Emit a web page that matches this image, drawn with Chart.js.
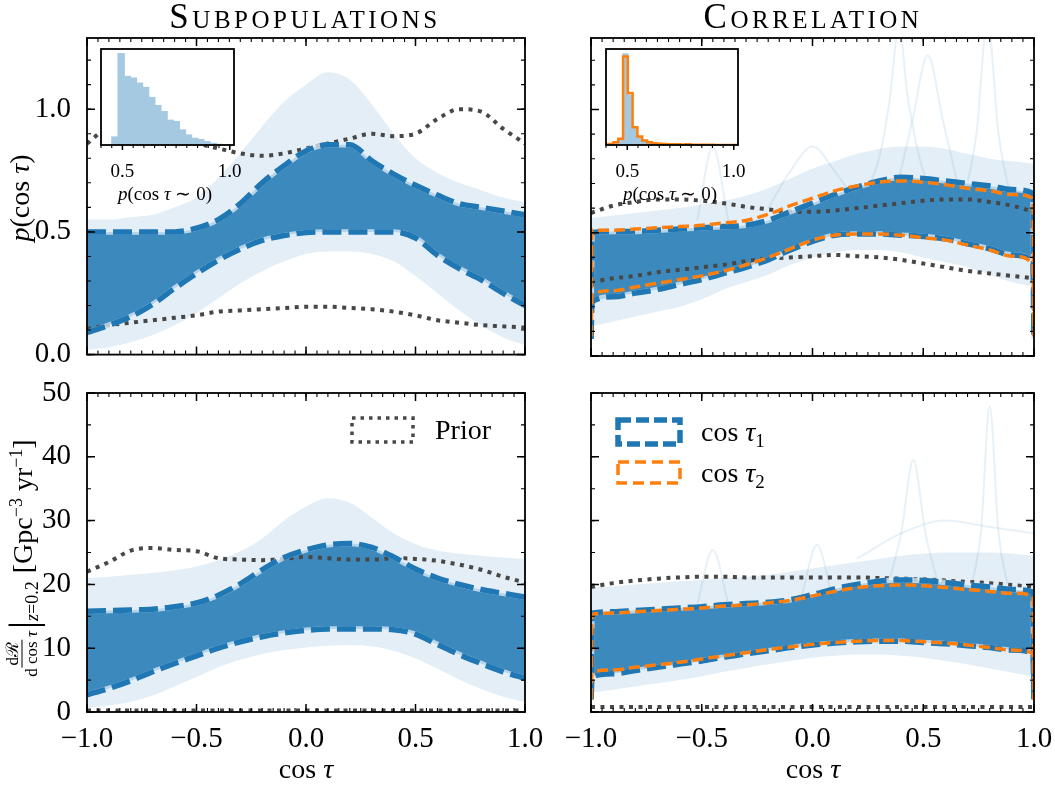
<!DOCTYPE html>
<html>
<head>
<meta charset="utf-8">
<script src="https://cdn.jsdelivr.net/npm/chart.js@4.4.1/dist/chart.umd.min.js"></script>
<style>
  body { margin: 0; background: #fff; overflow: hidden; }
  #fig { position: relative; width: 1055px; height: 785px; overflow: hidden; font-family: "Liberation Serif", serif; color: #000; }
  canvas { position: absolute; }
  .t { position: absolute; white-space: nowrap; }
  .title { font-size: 35px; font-variant: small-caps; letter-spacing: 3.5px; text-align: center; width: 420px; line-height: 40px; top: -3px; }
  .xlab { font-size: 28px; text-align: center; width: 200px; line-height: 34px; top: 752px; }
  .rot { transform: translate(-50%, -50%) rotate(-90deg); font-size: 28px; }
  .flexrot { display: flex; align-items: center; }
  .frac { display: inline-flex; flex-direction: column; align-items: center; font-size: 17px; line-height: 18px; margin-right: 2px; }
  .frac span:first-child { border-bottom: 1.2px solid #000; padding: 0 2px; }
  .bar { font-size: 40px; line-height: 34px; }
  .sub { font-size: 18px; position: relative; top: 10px; margin-right: 8px; }
  .inlab { font-size: 19px; transform: translate(-50%, -50%); }
</style>
</head>
<body>
<div id="fig">
  <canvas id="subP" width="560" height="380" style="left:0;top:0"></canvas>
  <canvas id="corrP" width="530" height="380" style="left:540px;top:0"></canvas>
  <canvas id="subR" width="560" height="425" style="left:0;top:360px"></canvas>
  <canvas id="corrR" width="530" height="425" style="left:540px;top:360px"></canvas>
  <canvas id="insetSub" width="170" height="145" style="left:90px;top:40px"></canvas>
  <canvas id="insetCorr" width="170" height="145" style="left:595px;top:40px"></canvas>

  <div class="t title" style="left:95px">Subpopulations</div>
  <div class="t title" style="left:603px">Correlation</div>
  <div class="t xlab" style="left:206px">cos&nbsp;<i>τ</i></div>
  <div class="t xlab" style="left:713px">cos&nbsp;<i>τ</i></div>
  <div class="t rot" style="left:20px;top:198px"><i>p</i>(cos&nbsp;<i>τ</i>)</div>
  <div class="t rot flexrot" style="left:22px;top:558px">
    <span class="frac"><span>dℛ</span><span>d&nbsp;cos&nbsp;<i>τ</i></span></span><span class="bar">|</span><span class="sub"><i>z</i>=0.2</span><span>[Gpc<sup style="font-size:18px">−3</sup>&nbsp;yr<sup style="font-size:18px">−1</sup>]</span>
  </div>
  <div class="t inlab" style="left:165px;top:193px"><i>p</i>(cos <i>τ</i> ∼ 0)</div>
  <div class="t inlab" style="left:670px;top:193px"><i>p</i>(cos <i>τ</i> ∼ 0)</div>
</div>

<script>
// ---- data ----
const cosTau = [-1, -0.9, -0.8, -0.7, -0.6, -0.5, -0.4, -0.3, -0.2, -0.1, 0,
                0.1, 0.2, 0.3, 0.4, 0.5, 0.6, 0.7, 0.8, 0.9, 1];
// correlation curves drop to ~0 right at the boundaries
const cosTauEdge = [-1, -0.995, -0.9, -0.8, -0.7, -0.6, -0.5, -0.4, -0.3, -0.2, -0.1, 0,
                    0.1, 0.2, 0.3, 0.4, 0.5, 0.6, 0.7, 0.8, 0.9, 0.995, 1];

const xTicks = [-1, -0.5, 0, 0.5, 1];
const yTicksP = [0, 0.5, 1.0];
const yTicksR = [0, 10, 20, 30, 40, 50];
const insetTicks = [0.5, 1.0];

// Subpopulations, p(cos tau)
const subP_hi90    = [0.5, 0.5, 0.5, 0.5, 0.5, 0.515, 0.55, 0.615, 0.7, 0.77, 0.83, 0.855, 0.855, 0.79, 0.735, 0.69, 0.65, 0.615, 0.6, 0.585, 0.57];
const subP_lo90    = [0.09, 0.12, 0.155, 0.205, 0.27, 0.33, 0.385, 0.43, 0.465, 0.485, 0.497, 0.5, 0.5, 0.5, 0.5, 0.475, 0.405, 0.35, 0.305, 0.25, 0.2];
const subP_outerHi = [0.55, 0.55, 0.56, 0.57, 0.6, 0.64, 0.72, 0.82, 0.93, 1.03, 1.1, 1.15, 1.12, 1.02, 0.9, 0.8, 0.74, 0.7, 0.67, 0.64, 0.62];
const subP_outerLo = [0.02, 0.03, 0.05, 0.08, 0.12, 0.17, 0.23, 0.29, 0.34, 0.38, 0.41, 0.42, 0.42, 0.41, 0.38, 0.32, 0.25, 0.18, 0.12, 0.07, 0.04];
const subP_priorHi = [0.86, 0.92, 0.92, 0.9, 0.88, 0.86, 0.84, 0.82, 0.81, 0.82, 0.84, 0.86, 0.88, 0.9, 0.89, 0.9, 0.96, 1.0, 0.99, 0.92, 0.86];
const subP_priorLo = [0.105, 0.12, 0.13, 0.14, 0.15, 0.16, 0.175, 0.18, 0.185, 0.19, 0.195, 0.195, 0.19, 0.185, 0.175, 0.16, 0.14, 0.13, 0.12, 0.115, 0.11];

// Correlation, p(cos tau)  (hi1/lo1: cos tau_1, hi2/lo2: cos tau_2)
const corrP_hi1 = [0.07, 0.5, 0.505, 0.505, 0.51, 0.515, 0.52, 0.525, 0.53, 0.55, 0.585, 0.62, 0.655, 0.685, 0.71, 0.725, 0.72, 0.71, 0.7, 0.69, 0.675, 0.66, 0.07];
const corrP_lo1 = [0.07, 0.22, 0.24, 0.255, 0.27, 0.29, 0.31, 0.335, 0.36, 0.39, 0.43, 0.465, 0.49, 0.495, 0.495, 0.49, 0.485, 0.475, 0.455, 0.435, 0.41, 0.385, 0.07];
const corrP_hi2 = [0.08, 0.51, 0.51, 0.515, 0.52, 0.525, 0.53, 0.54, 0.55, 0.575, 0.61, 0.64, 0.67, 0.69, 0.705, 0.71, 0.705, 0.695, 0.68, 0.67, 0.655, 0.64, 0.08];
const corrP_lo2 = [0.08, 0.25, 0.265, 0.28, 0.295, 0.31, 0.325, 0.345, 0.37, 0.4, 0.435, 0.47, 0.49, 0.495, 0.495, 0.49, 0.48, 0.47, 0.45, 0.43, 0.405, 0.375, 0.08];
const corrP_outerHi = [0.56, 0.57, 0.58, 0.59, 0.6, 0.615, 0.63, 0.65, 0.68, 0.72, 0.76, 0.79, 0.82, 0.84, 0.85, 0.85, 0.84, 0.82, 0.8, 0.79, 0.78];
const corrP_outerLo = [0.12, 0.14, 0.16, 0.18, 0.2, 0.23, 0.27, 0.3, 0.33, 0.37, 0.4, 0.42, 0.43, 0.43, 0.42, 0.4, 0.38, 0.36, 0.33, 0.3, 0.28];
const corrP_priorHi = [0.58, 0.61, 0.625, 0.635, 0.635, 0.63, 0.62, 0.605, 0.595, 0.585, 0.585, 0.59, 0.6, 0.61, 0.62, 0.63, 0.635, 0.635, 0.625, 0.61, 0.585];
const corrP_priorLo = [0.3, 0.315, 0.325, 0.34, 0.35, 0.36, 0.37, 0.385, 0.395, 0.4, 0.405, 0.41, 0.405, 0.4, 0.39, 0.375, 0.36, 0.345, 0.335, 0.325, 0.315];
// a few outlying draws that stand out
const corrP_spikes = [
  { x: [0.2, 0.3, 0.35, 0.39, 0.43, 0.5, 0.6], y: [0.62, 0.8, 1.05, 1.34, 1.05, 0.75, 0.62] },
  { x: [0.68, 0.74, 0.79, 0.84, 0.9], y: [0.62, 0.9, 1.36, 0.9, 0.62] },
  { x: [0.38, 0.45, 0.52, 0.59, 0.66], y: [0.68, 0.95, 1.22, 0.95, 0.68] },
  { x: [-0.52, -0.45, -0.38], y: [0.55, 0.85, 0.55] },
  { x: [-0.2, -0.1, 0, 0.1, 0.2], y: [0.6, 0.75, 0.85, 0.75, 0.62] }
];

// Subpopulations, rate density
const subR_hi90    = [15.8, 15.9, 16.0, 16.1, 16.5, 17.1, 18.3, 20.1, 22.3, 24.2, 25.4, 26.2, 26.4, 25.8, 24.3, 22.4, 21.0, 20.0, 19.2, 18.6, 18.0];
const subR_lo90    = [2.7, 3.7, 4.9, 6.3, 7.6, 8.8, 10.0, 11.0, 11.8, 12.4, 12.8, 13.0, 13.0, 13.0, 12.9, 12.2, 10.6, 9.0, 7.6, 6.3, 5.3];
const subR_outerHi = [21, 21.2, 21.5, 21.8, 22.2, 22.8, 23.8, 25.2, 27.2, 30, 32.2, 33.5, 32.8, 30.5, 28, 26.3, 25.3, 24.8, 24.5, 24.2, 24];
const subR_outerLo = [0.6, 1, 1.6, 2.6, 4, 5.5, 7, 8.2, 9.1, 9.7, 10.1, 10.4, 10.5, 10.3, 9.6, 8.4, 6.8, 5.1, 3.6, 2.4, 1.6];
const subR_priorHi = [22.0, 23.5, 25.3, 25.7, 25.4, 25.2, 24.1, 23.9, 23.8, 24.0, 24.3, 24.1, 23.9, 23.9, 24.1, 24.0, 23.7, 23.1, 22.3, 21.2, 20.3];
const subR_priorLo = [0.25, 0.25, 0.25, 0.25, 0.25, 0.25, 0.25, 0.25, 0.25, 0.25, 0.25, 0.25, 0.25, 0.25, 0.25, 0.25, 0.25, 0.25, 0.25, 0.25, 0.25];

// Correlation, rate density
const corrR_hi1 = [2, 15.5, 15.7, 15.9, 16.1, 16.3, 16.5, 16.8, 17.0, 17.2, 17.6, 18.4, 19.3, 20.0, 20.5, 20.7, 20.6, 20.3, 19.9, 19.6, 19.2, 18.8, 2];
const corrR_lo1 = [2, 5.5, 6.0, 6.5, 7.0, 7.5, 8.0, 8.6, 9.1, 9.6, 10.1, 10.5, 10.8, 11.0, 11.1, 11.1, 10.9, 10.7, 10.4, 10.1, 9.7, 9.2, 2];
const corrR_hi2 = [2, 15.3, 15.5, 15.7, 15.9, 16.1, 16.3, 16.6, 16.8, 17.1, 17.5, 18.2, 18.9, 19.5, 19.8, 19.9, 19.8, 19.5, 19.2, 18.9, 18.6, 18.2, 2];
const corrR_lo2 = [2, 6.2, 6.6, 7.0, 7.4, 7.8, 8.3, 8.8, 9.3, 9.8, 10.2, 10.6, 10.9, 11.1, 11.2, 11.2, 11.0, 10.8, 10.5, 10.1, 9.7, 9.2, 2];
const corrR_outerHi = [19.5, 19.7, 20, 20.2, 20.5, 20.7, 21, 21.2, 21.5, 22, 22.5, 23, 23.5, 24, 24.5, 24.8, 25, 25, 25, 24.8, 24.5];
const corrR_outerLo = [3, 3.5, 4, 4.5, 5, 5.6, 6.3, 6.9, 7.5, 8, 8.5, 8.8, 9, 9, 8.8, 8.5, 8, 7.5, 6.8, 6.2, 5.5];
const corrR_priorHi = [19.6, 20.2, 20.6, 20.9, 21.1, 21.2, 21.2, 21.1, 21.1, 21.1, 21.1, 21.1, 21.1, 21.0, 20.9, 20.8, 20.6, 20.4, 20.2, 19.9, 19.6];
const corrR_priorLo = [0.8, 0.8, 0.8, 0.8, 0.8, 0.8, 0.8, 0.8, 0.8, 0.8, 0.8, 0.8, 0.8, 0.8, 0.8, 0.8, 0.8, 0.8, 0.8, 0.8, 0.8];
const corrR_spikes = [
  { x: [0.72, 0.76, 0.8, 0.84, 0.88], y: [20, 28, 47.9, 28, 20] },
  { x: [0.35, 0.4, 0.455, 0.51, 0.56], y: [21, 28, 39.5, 28, 21] },
  { x: [-0.52, -0.45, -0.38], y: [17, 25.4, 17] },
  { x: [-0.05, 0.02, 0.09], y: [18, 26.2, 18] },
  { x: [0.2, 0.4, 0.6, 0.8, 1.0], y: [24, 28, 30, 29, 28] }
];

// insets: p(cos tau ~ 0) histograms
const insetBinsSub   = [0.465, 0.494, 0.523, 0.551, 0.58, 0.608, 0.637, 0.665, 0.694, 0.723, 0.751, 0.78, 0.808, 0.837, 0.865, 0.894, 0.923, 0.951, 0.98];
const insetCountsSub = [24, 273, 205, 200, 185, 172, 142, 118, 100, 74, 70, 45, 30, 20, 16, 10, 5, 2, 1];
const insetBinsCorr  = [0.424, 0.446, 0.469, 0.491, 0.514, 0.536, 0.559, 0.581, 0.604, 0.626, 0.649, 0.671, 0.694, 0.716,
                        0.739, 0.761, 0.784, 0.806, 0.829, 0.851, 0.874, 0.896, 0.919, 0.941, 0.964, 0.986, 1.009];
const insetCorr1 = [2, 6, 15, 268, 145, 48, 22, 12, 7, 5, 3, 3, 2, 2, 1, 1, 1, 1, 1, 1, 0, 0, 0, 0, 0, 0, 0];
const insetCorr2 = [3, 8, 18, 260, 152, 52, 25, 13, 8, 5, 4, 3, 2, 2, 2, 1, 2, 1, 1, 1, 1, 1, 0, 0, 0, 0, 0];

// ---- styling ----
const C1 = '#1f77b4';
const C2 = '#ff7f0e';
const PRIOR = '#474747';
const HIST = '#a5c9e1';   // C1 at 40% on white, kept opaque so bars butt cleanly
const bandFaint = 'rgba(31,119,180,0.12)';
const bandDense = 'rgba(31,119,180,0.85)';
const SERIF = '"Liberation Serif", serif';
Chart.defaults.font.family = SERIF;
Chart.defaults.color = '#000';

const pts = (xs, ys) => xs.map((x, i) => ({ x, y: ys[i] }));
const inner = arr => arr.slice(1, -1);   // drop the boundary points

function line(data, o) {
  return Object.assign({
    type: 'line', data, pointRadius: 0, borderWidth: 0, borderColor: 'rgba(0,0,0,0)',
    fill: false, cubicInterpolationMode: 'monotone'
  }, o);
}
const prior = (ys) => line(pts(cosTau, ys), { borderColor: PRIOR, borderWidth: 4, borderDash: [4, 5.5], order: 10 });
const under = (xs, ys) => line(pts(xs, ys), { borderColor: 'rgba(225,238,248,0.75)', borderWidth: 5.5, order: 4 });
const dash1 = (xs, ys) => line(pts(xs, ys), { borderColor: C1, borderWidth: 5.5, borderDash: [19, 7], order: 3 });
const dash2 = (xs, ys) => line(pts(xs, ys), { borderColor: C2, borderWidth: 3.5, borderDash: [11, 5], order: 1 });
const faint = (s) => line(pts(s.x, s.y), { borderColor: 'rgba(31,119,180,0.1)', borderWidth: 2, order: 15 });

const fmt1 = v => (v < 0 ? '\u2212' : '') + Math.abs(v).toFixed(1);
const fmt0 = v => String(v);

// inward (or outward) frame ticks, major + minor, on the chart area
function frameTicks(cfg) {
  return {
    id: 'frameTicks',
    afterDraw(chart) {
      const { ctx, chartArea: a, scales: { x, y } } = chart;
      const d = cfg.out ? -1 : 1;
      const steps = (s, step) => {
        const r = [];
        for (let v = Math.ceil(s.min / step - 1e-9) * step; v <= s.max + 1e-9; v += step) r.push(v);
        return r;
      };
      ctx.save();
      ctx.strokeStyle = '#000';
      const drawX = (vals, len, w) => {
        ctx.lineWidth = w;
        ctx.beginPath();
        vals.forEach(v => {
          const p = x.getPixelForValue(v);
          ctx.moveTo(p, a.bottom); ctx.lineTo(p, a.bottom - d * len);
          if (!cfg.out) { ctx.moveTo(p, a.top); ctx.lineTo(p, a.top + len); }
        });
        ctx.stroke();
      };
      const drawY = (vals, len, w) => {
        ctx.lineWidth = w;
        ctx.beginPath();
        vals.forEach(v => {
          const p = y.getPixelForValue(v);
          ctx.moveTo(a.left, p); ctx.lineTo(a.left + len, p);
          ctx.moveTo(a.right, p); ctx.lineTo(a.right - len, p);
        });
        ctx.stroke();
      };
      drawX(steps(x, cfg.xMinor), cfg.out ? 3 : 4, 1.1);
      drawX(cfg.xMajor, cfg.out ? 5 : 8, 1.5);
      if (cfg.yMinor) {
        drawY(steps(y, cfg.yMinor), 4, 1.1);
        drawY(cfg.yMajor, 8, 1.5);
      }
      ctx.lineWidth = 1.8;
      ctx.strokeRect(a.left, a.top, a.width, a.height);
      ctx.restore();
    }
  };
}

// legend patches drawn inside the axes
function patchLegend(items) {
  return {
    id: 'patchLegend',
    afterDatasetsDraw(chart) {
      const { ctx, chartArea: a } = chart;
      items.forEach(it => {
        ctx.save();
        ctx.strokeStyle = it.color;
        ctx.lineWidth = it.width;
        ctx.setLineDash(it.dash);
        ctx.strokeRect(a.left + it.box[0], a.top + it.box[1], it.box[2], it.box[3]);
        ctx.setLineDash([]);
        ctx.fillStyle = '#000';
        ctx.textBaseline = 'alphabetic';
        let tx = a.left + it.textX;
        const ty = a.top + it.box[1] + it.box[3] / 2 + 9;
        it.runs.forEach(r => {
          ctx.font = r.font + ' ' + SERIF;
          ctx.fillText(r.t, tx, ty + (r.dy || 0));
          tx += ctx.measureText(r.t).width;
        });
        ctx.restore();
      });
    }
  };
}

const whiteBg = {
  id: 'whiteBg',
  beforeDatasetsDraw(chart) {
    const { ctx, chartArea: a } = chart;
    ctx.save();
    ctx.fillStyle = '#fff';
    ctx.fillRect(a.left, a.top, a.width, a.height);
    ctx.restore();
  }
};

function panel(id, datasets, o) {
  return new Chart(document.getElementById(id), {
    type: 'line',
    data: { datasets },
    options: {
      animation: false, responsive: false, events: [],
      layout: { padding: { left: 0, top: o.top, right: o.right, bottom: 0 } },
      plugins: { legend: { display: false }, tooltip: { enabled: false } },
      scales: {
        x: {
          type: 'linear', min: -1, max: 1,
          grid: { display: false }, border: { display: false },
          ticks: { display: o.xLabels, font: { size: 29 }, color: '#000', padding: 2, maxRotation: 0, autoSkip: false, callback: fmt1 },
          afterBuildTicks: s => { s.ticks = xTicks.map(v => ({ value: v })); },
          afterFit: s => { s.height = o.xh; }
        },
        y: {
          type: 'linear', min: 0, max: o.ymax,
          grid: { display: false }, border: { display: false },
          ticks: { display: o.yLabels, font: { size: 29 }, color: '#000', padding: 8, autoSkip: false, callback: o.yfmt },
          afterBuildTicks: s => { s.ticks = o.yTicks.map(v => ({ value: v })); },
          afterFit: s => { s.width = o.yw; }
        }
      }
    },
    plugins: [frameTicks({ xMinor: 0.05, xMajor: xTicks, yMinor: o.yMinor, yMajor: o.yTicks })].concat(o.extra || [])
  });
}

function bands(xs, oLo, oHi, iLo, iHi) {
  return [
    line(pts(xs, oLo), { order: 30 }),
    line(pts(xs, oHi), { order: 29, fill: '-1', backgroundColor: bandFaint }),
    line(pts(xs, iLo), { order: 28 }),
    line(pts(xs, iHi), { order: 27, fill: '-1', backgroundColor: bandDense })
  ];
}

// ---- top left: Subpopulations, p(cos tau) ----
panel('subP', [
  ...bands(cosTau, subP_outerLo, subP_outerHi, subP_lo90, subP_hi90),
  prior(subP_priorHi), prior(subP_priorLo),
  under(cosTau, subP_hi90), under(cosTau, subP_lo90),
  dash1(cosTau, subP_hi90), dash1(cosTau, subP_lo90)
], { top: 38, right: 35, xh: 24, yw: 87, ymax: 1.29, yTicks: yTicksP, yMinor: 0.1, yfmt: fmt1, xLabels: false, yLabels: true });

// ---- top right: Correlation, p(cos tau) ----
panel('corrP', [
  ...bands(cosTau, corrP_outerLo, corrP_outerHi, inner(corrP_lo1), inner(corrP_hi1)),
  ...corrP_spikes.map(faint),
  prior(corrP_priorHi), prior(corrP_priorLo),
  under(cosTauEdge, corrP_hi1), under(cosTauEdge, corrP_lo1),
  dash1(cosTauEdge, corrP_hi1), dash1(cosTauEdge, corrP_lo1),
  dash2(cosTauEdge, corrP_hi2), dash2(cosTauEdge, corrP_lo2)
], { top: 38, right: 36, xh: 24, yw: 51, ymax: 1.29, yTicks: yTicksP, yMinor: 0.1, yfmt: fmt1, xLabels: false, yLabels: false });

// ---- bottom left: Subpopulations, rate ----
panel('subR', [
  ...bands(cosTau, subR_outerLo, subR_outerHi, subR_lo90, subR_hi90),
  prior(subR_priorHi), prior(subR_priorLo),
  under(cosTau, subR_hi90), under(cosTau, subR_lo90),
  dash1(cosTau, subR_hi90), dash1(cosTau, subR_lo90)
], {
  top: 33, right: 35, xh: 73, yw: 87, ymax: 50, yTicks: yTicksR, yMinor: 5, yfmt: fmt0, xLabels: true, yLabels: true,
  extra: [patchLegend([
    { box: [265, 25, 61, 24], textX: 348, color: PRIOR, width: 3.5, dash: [3.5, 5], runs: [{ t: 'Prior', font: '28px' }] }
  ])]
});

// ---- bottom right: Correlation, rate ----
panel('corrR', [
  ...bands(cosTau, corrR_outerLo, corrR_outerHi, inner(corrR_lo1), inner(corrR_hi1)),
  ...corrR_spikes.map(faint),
  prior(corrR_priorHi), prior(corrR_priorLo),
  under(cosTauEdge, corrR_hi1), under(cosTauEdge, corrR_lo1),
  dash1(cosTauEdge, corrR_hi1), dash1(cosTauEdge, corrR_lo1),
  dash2(cosTauEdge, corrR_hi2), dash2(cosTauEdge, corrR_lo2)
], {
  top: 33, right: 36, xh: 73, yw: 51, ymax: 50, yTicks: yTicksR, yMinor: 5, yfmt: fmt0, xLabels: true, yLabels: false,
  extra: [patchLegend([
    { box: [27, 27, 62, 24], textX: 110, color: C1, width: 5.5, dash: [13, 5],
      runs: [{ t: 'cos ', font: '28px' }, { t: 'τ', font: 'italic 28px' }, { t: '1', font: '19px', dy: 6 }] },
    { box: [27, 69, 62, 21], textX: 110, color: C2, width: 3.5, dash: [11, 6],
      runs: [{ t: 'cos ', font: '28px' }, { t: 'τ', font: 'italic 28px' }, { t: '2', font: '19px', dy: 6 }] }
  ])]
});

// ---- insets ----
function inset(id, datasets, ymax, right) {
  return new Chart(document.getElementById(id), {
    type: 'bar',
    data: { datasets },
    options: {
      animation: false, responsive: false, events: [],
      layout: { padding: { left: 11, top: 9, right, bottom: 0 } },
      plugins: { legend: { display: false }, tooltip: { enabled: false } },
      scales: {
        x: {
          type: 'linear', min: 0.4, max: 1.02, offset: false,
          grid: { display: false, offset: false }, border: { display: false },
          ticks: { font: { size: 19 }, color: '#000', padding: 8, maxRotation: 0, autoSkip: false, callback: fmt1 },
          afterBuildTicks: s => { s.ticks = insetTicks.map(v => ({ value: v })); },
          afterFit: s => { s.height = 40; }
        },
        y: { display: false, min: 0, max: ymax }
      }
    },
    plugins: [whiteBg, frameTicks({ out: true, xMinor: 0.05, xMajor: insetTicks })]
  });
}
const histBar = (xs, ys) => ({
  type: 'bar', data: pts(xs, ys), backgroundColor: HIST, borderWidth: 0, inflateAmount: 0.6,
  barThickness: 'flex', barPercentage: 1, categoryPercentage: 1, order: 2
});

inset('insetSub', [histBar(insetBinsSub, insetCountsSub)], 287, 26);
inset('insetCorr', [
  histBar(insetBinsCorr, insetCorr1),
  { type: 'line', data: pts([0.4, ...insetBinsCorr, 1.02], [0, ...insetCorr2, 0]), stepped: 'middle',
    borderColor: C2, borderWidth: 2.5, pointRadius: 0, fill: false, order: 1 }
], 282, 27);
</script>
</body>
</html>
